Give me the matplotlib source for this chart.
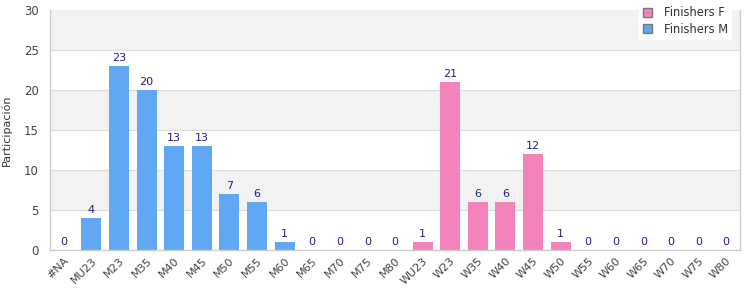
import matplotlib
matplotlib.use('Agg')
import matplotlib.pyplot as plt
from matplotlib.patches import Patch

categories = ['#NA', 'MU23', 'M23', 'M35', 'M40', 'M45', 'M50', 'M55', 'M60',
              'M65', 'M70', 'M75', 'M80', 'WU23', 'W23', 'W35', 'W40', 'W45',
              'W50', 'W55', 'W60', 'W65', 'W70', 'W75', 'W80']
men_cats = categories[:13]
men_vals = [0, 4, 23, 20, 13, 13, 7, 6, 1, 0, 0, 0, 0]
women_cats = categories[13:]
women_vals = [1, 21, 6, 6, 12, 1, 0, 0, 0, 0, 0, 0]

blue = '#60a8f4'
pink = '#f283ba'
label_color = '#1f1f8f'

fig = plt.figure(figsize=(7.5, 3), dpi=100)
ax = fig.add_axes([50 / 750, 50 / 300, 690 / 750, 240 / 300])

for lo in range(5, 30, 10):
    ax.axhspan(lo, lo + 5, color='#f2f2f2', zorder=0, lw=0)
for y in range(5, 30, 5):
    ax.axhline(y, color='#dcdcdc', lw=0.8, zorder=0.5)

x_m = list(range(len(men_cats)))
x_w = list(range(len(men_cats), len(categories)))
bm = ax.bar(x_m, men_vals, width=0.72, color=blue, zorder=2)
bw = ax.bar(x_w, women_vals, width=0.72, color=pink, zorder=2)
for bars in (bm, bw):
    ax.bar_label(bars, padding=2, fontsize=8, color=label_color)

ax.set_xlim(-0.5, len(categories) - 0.5)
ax.set_ylim(0, 30)
ax.set_yticks(range(0, 31, 5))
ax.set_xticks(range(len(categories)))
ax.set_xticklabels(categories, rotation=45, ha='right', rotation_mode='anchor',
                   fontsize=8, color='#444444')
ax.tick_params(axis='y', labelsize=8.5, labelcolor='#444444', length=0, pad=8)
ax.tick_params(axis='x', length=0, pad=4)

ax.spines['top'].set_visible(False)
for s in ('left', 'right', 'bottom'):
    ax.spines[s].set_color('#cccccc')
    ax.spines[s].set_linewidth(1)

ax.set_ylabel('Participación', fontsize=8, color='#333333', labelpad=9)

handles = [Patch(facecolor=pink, edgecolor='#777777'),
           Patch(facecolor=blue, edgecolor='#777777')]
fig.legend(handles, ['Finishers F', 'Finishers M'], loc='upper right',
           bbox_to_anchor=(737 / 750, 1.01), fontsize=8.3, frameon=True,
           fancybox=False, framealpha=1, edgecolor='white',
           handlelength=0.8, handleheight=0.8, labelspacing=0.3,
           handletextpad=1.0, borderpad=0.3, labelcolor='#333333')

fig.savefig('out.png', dpi=100)
